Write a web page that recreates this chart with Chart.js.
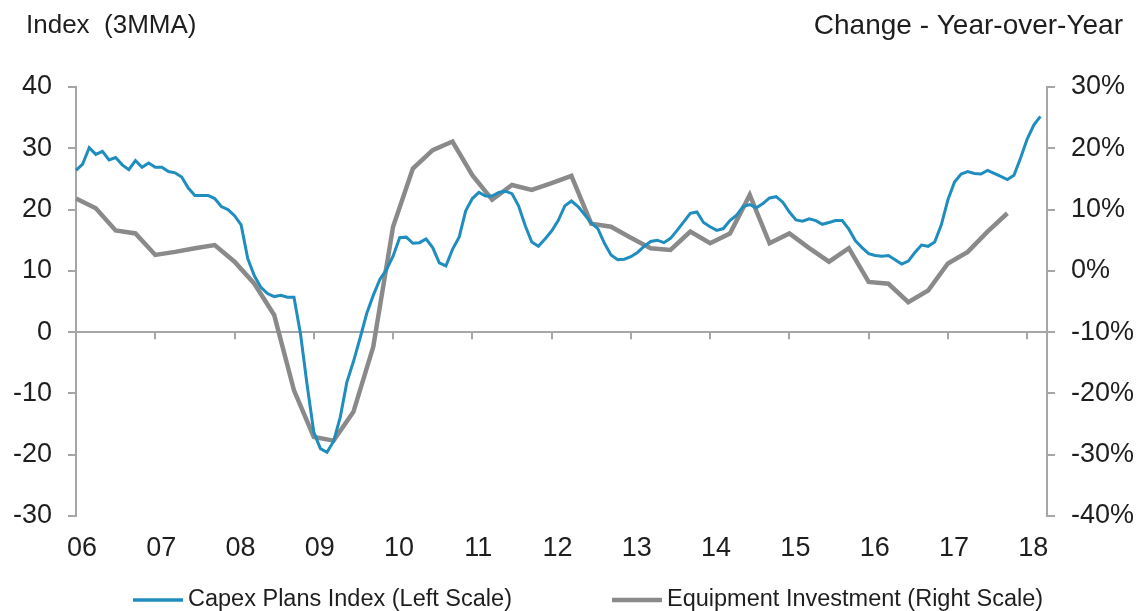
<!DOCTYPE html>
<html>
<head>
<meta charset="utf-8">
<script src="https://cdn.jsdelivr.net/npm/chart.js"></script>
<style>
  body { margin: 0; background: #fff; }
  #wrap { width: 1141px; height: 611px; }
</style>
</head>
<body>
<div id="wrap"><canvas id="capexChart" width="1141" height="611"></canvas></div>
<script>
// Monthly categories, Jan 2006 .. Apr 2018
var firstYear = 2006;
var monthCount = 148;

// Capex Plans Index, 3MMA (left scale), monthly from Jan 2006
var capexPlans = [
    26.4, 27.4, 30.1, 29.0, 29.5, 28.1, 28.5, 27.3, 26.5, 28.0, 26.9, 27.6,
    26.9, 26.9, 26.2, 26.0, 25.3, 23.5, 22.3, 22.3, 22.3, 21.8, 20.5, 20.0,
    19.0, 17.5, 12.0, 9.2, 7.3, 6.3, 5.8, 6.0, 5.7, 5.7, -0.4, -8.7,
    -16.3, -19.0, -19.6, -17.8, -13.9, -8.2, -4.8, -1.0, 3.0, 6.0, 8.6, 10.2,
    12.4, 15.4, 15.5, 14.5, 14.6, 15.2, 13.8, 11.3, 10.8, 13.5, 15.5, 19.8,
    21.8, 22.8, 22.2, 22.2, 22.8, 23.0, 22.6, 20.6, 17.4, 14.7, 14.0, 15.2,
    16.5, 18.2, 20.6, 21.4, 20.5, 19.2, 17.8, 16.9, 14.5, 12.6, 11.8, 11.9,
    12.3, 13.0, 14.0, 14.8, 15.0, 14.6, 15.3, 16.6, 18.0, 19.4, 19.6, 17.9,
    17.2, 16.6, 16.9, 18.2, 19.1, 20.5, 20.8, 20.3, 21.0, 21.9, 22.1, 21.2,
    19.6, 18.3, 18.1, 18.5, 18.2, 17.6, 17.9, 18.2, 18.2, 16.8, 14.9, 13.8,
    12.8, 12.5, 12.4, 12.5, 11.8, 11.1, 11.6, 13.0, 14.2, 14.0, 14.7, 17.5,
    21.6, 24.5, 25.8, 26.2, 25.9, 25.8, 26.4, 25.9, 25.4, 24.9, 25.6, 28.4,
    31.5, 33.8, 35.2
];

// Equipment Investment, % y/y (right scale), quarterly from Q4 2005
var equipInvestment = [
    11.8, 10.2, 6.6, 6.1, 2.6, 3.1, 3.7, 4.2, 1.5, -2.1, -7.2, -19.5,
    -27.1, -27.7, -23.0, -12.4, 7.2, 16.7, 19.7, 21.1, 15.6, 11.6, 14.0, 13.2,
    14.3, 15.5, 7.7, 7.2, 5.4, 3.7, 3.4, 6.4, 4.5, 6.1, 12.4, 4.5,
    6.1, 3.7, 1.5, 3.7, -1.8, -2.1, -5.1, -3.2, 1.2, 3.1, 6.4, 9.4
];

var leftTicks = [-30, -20, -10, 0, 10, 20, 30, 40];
var rightTicks = [-40, -30, -20, -10, 0, 10, 20, 30];

var monthLabels = [];
for (var i = 0; i < monthCount; i++) {
    var yr = firstYear + Math.floor(i / 12);
    var mo = (i % 12) + 1;
    monthLabels.push(yr + '-' + (mo < 10 ? '0' + mo : mo));
}

// quarterly series placed on every third month
var equipMonthly = monthLabels.map(function () { return null; });
equipInvestment.forEach(function (v, k) { equipMonthly[k * 3] = v; });

var FONT = "'Liberation Sans', Arial, sans-serif";
var TEXT = '#1e1e1e';
var AXIS = '#a6a6a6';

// Headers above both axes, year ticks on the zero line and the legend
var decorations = {
    id: 'decorations',
    afterDraw: function (chart) {
        var c = chart.ctx;
        var x = chart.scales.x;
        var y0 = chart.scales.y.getPixelForValue(0);
        c.save();
        c.strokeStyle = AXIS;
        c.lineWidth = 2;
        monthLabels.forEach(function (lab, i) {
            if (i % 12 === 0 && i > 0) {
                var px = Math.round(x.getPixelForValue(i));
                c.beginPath();
                c.moveTo(px, y0);
                c.lineTo(px, y0 + 7);
                c.stroke();
            }
        });
        c.fillStyle = TEXT;
        c.textBaseline = 'alphabetic';
        c.textAlign = 'left';
        c.font = '26px ' + FONT;
        c.fillText('Index  (3MMA)', 26, 33);
        c.textAlign = 'right';
        c.font = '28px ' + FONT;
        c.fillText('Change - Year-over-Year', 1123, 34);

        // legend
        var legendX = [133, 612];
        c.font = '23.5px ' + FONT;
        c.textAlign = 'left';
        c.textBaseline = 'middle';
        chart.data.datasets.forEach(function (ds, i) {
            var lx = legendX[i];
            c.strokeStyle = ds.borderColor;
            c.lineWidth = i === 0 ? 3.5 : 4.5;
            c.beginPath();
            c.moveTo(lx, 600);
            c.lineTo(lx + 50, 600);
            c.stroke();
            c.fillStyle = TEXT;
            c.fillText(ds.label, lx + 55, 600);
        });
        c.restore();
    }
};

var ctx = document.getElementById('capexChart').getContext('2d');
new Chart(ctx, {
    type: 'line',
    data: {
        labels: monthLabels,
        datasets: [{
            label: 'Capex Plans Index (Left Scale)',
            data: capexPlans,
            yAxisID: 'y',
            borderColor: '#1f8dbe',
            borderWidth: 3,
            pointRadius: 0,
            tension: 0
        }, {
            label: 'Equipment Investment (Right Scale)',
            data: equipMonthly,
            yAxisID: 'y1',
            borderColor: '#8a8a8a',
            borderWidth: 4.5,
            pointRadius: 0,
            spanGaps: true,
            tension: 0
        }]
    },
    options: {
        responsive: false,
        animation: false,
        layout: { padding: { top: 87, left: 0, right: 0, bottom: 47 } },
        plugins: {
            tooltip: { enabled: false },
            legend: { display: false }
        },
        scales: {
            x: {
                type: 'category',
                offset: false,
                grid: { display: false, drawTicks: false },
                border: { display: false },
                ticks: {
                    autoSkip: false,
                    maxRotation: 0,
                    padding: 16,
                    labelOffset: 6,
                    color: TEXT,
                    font: { family: FONT, size: 27 },
                    callback: function (value, index) {
                        var lab = monthLabels[index];
                        return lab.slice(5) === '01' ? lab.slice(2, 4) : '';
                    }
                },
                afterFit: function (scale) { scale.height = 48; }
            },
            y: {
                position: 'left',
                min: -30,
                max: 40,
                afterBuildTicks: function (scale) {
                    scale.ticks = leftTicks.map(function (v) { return { value: v }; });
                },
                grid: {
                    drawOnChartArea: true,
                    color: function (c) { return c.tick && c.tick.value === 0 ? AXIS : 'rgba(0,0,0,0)'; },
                    lineWidth: 2,
                    tickColor: AXIS,
                    tickLength: 8
                },
                border: { display: true, color: AXIS, width: 2 },
                ticks: {
                    padding: 16,
                    color: TEXT,
                    font: { family: FONT, size: 27 }
                },
                afterFit: function (scale) { scale.width = 76; }
            },
            y1: {
                position: 'right',
                min: -40,
                max: 30,
                afterBuildTicks: function (scale) {
                    scale.ticks = rightTicks.map(function (v) { return { value: v }; });
                },
                grid: {
                    drawOnChartArea: false,
                    color: AXIS,
                    lineWidth: 2,
                    tickLength: 8
                },
                border: { display: true, color: AXIS, width: 2 },
                ticks: {
                    padding: 16,
                    color: TEXT,
                    font: { family: FONT, size: 27 },
                    callback: function (v) { return v + '%'; }
                },
                afterFit: function (scale) { scale.width = 94; }
            }
        }
    },
    plugins: [decorations]
});
</script>
</body>
</html>
